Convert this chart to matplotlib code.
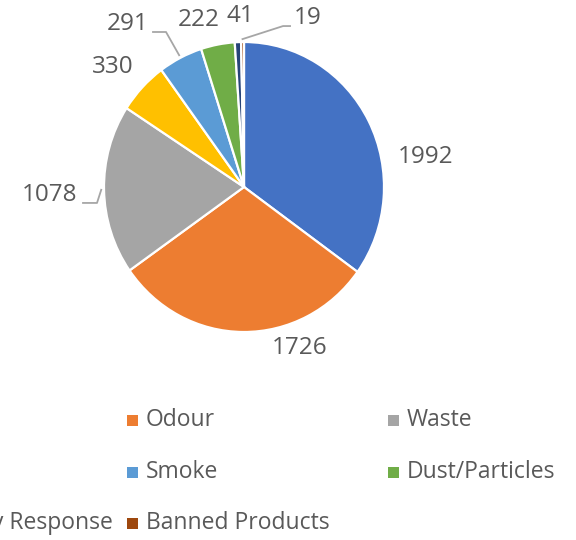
import numpy as np
import matplotlib.pyplot as plt
from matplotlib.patches import Rectangle

plt.rcParams['font.family'] = ['Open Sans', 'DejaVu Sans']

# data (first-column legend names are cut off in the reference)
categories = ['Noise', 'Odour', 'Waste', 'Burning', 'Smoke', 'Dust/Particles',
              'Emergency Response', 'Banned Products']
values = [1992, 1726, 1078, 330, 291, 222, 41, 19]
colors = ['#4472C4', '#ED7D31', '#A5A5A5', '#FFC000', '#5B9BD5', '#70AD47',
          '#264478', '#9E480E']

# label placement (data units of the pie axes)
label_pos = [(1.30, 0.207), (0.40, -1.11), (-1.386, -0.055), (-0.936, 0.828),
             (-0.829, 1.124), (-0.321, 1.152), (-0.029, 1.179), (0.457, 1.166)]
# leader lines: index -> (start, elbow)
leaders = {2: [(-1.15, -0.11), (-1.05, -0.11)],
           4: [(-0.65, 1.069), (-0.557, 1.069)],
           7: [(0.329, 1.11), (0.279, 1.11)]}

text_col = '#595959'
W, H = 576, 540

fig = plt.figure(figsize=(W / 100, H / 100), dpi=100)
ax = fig.add_axes([104 / W, 1 - 332 / H, 280 / W, 290 / H])

wedges, _ = ax.pie(values, colors=colors, startangle=90, counterclock=False,
                   wedgeprops=dict(edgecolor='white', linewidth=1.6))
ax.set_aspect('auto')
ax.set_xlim(-1, 1)
ax.set_ylim(-1, 1)
ax.axis('off')

for i, w in enumerate(wedges):
    x, y = label_pos[i]
    ax.text(x, y, str(values[i]), ha='center', va='center', fontsize=17.5,
            color=text_col, clip_on=False)
    if i in leaders:
        ang = np.deg2rad((w.theta1 + w.theta2) / 2)
        end = (1.02 * np.cos(ang), 1.02 * np.sin(ang))
        pts = leaders[i] + [end]
        ax.plot([p[0] for p in pts], [p[1] for p in pts], color='#A6A6A6',
                lw=1.3, clip_on=False)

# legend, Excel style: fixed-width columns, row-wise order
col0, colw = -134, 261
rows_y = [420, 472, 523]
for i, name in enumerate(categories):
    r, c = divmod(i, 3)
    mx = col0 + c * colw
    my = rows_y[r]
    fig.patches.append(Rectangle((mx / W, 1 - (my + 5.5) / H), 11 / W, 11 / H,
                                 transform=fig.transFigure, facecolor=colors[i],
                                 edgecolor='none'))
    fig.text((mx + 19) / W, 1 - my / H, name, ha='left', va='center',
             fontsize=16.5, color=text_col)

fig.savefig('out.png', dpi=100)
